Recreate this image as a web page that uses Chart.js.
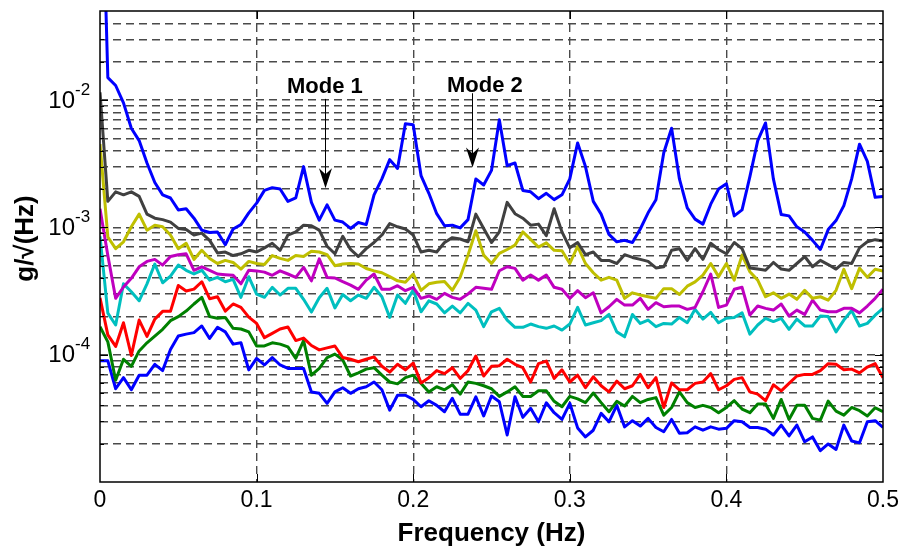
<!DOCTYPE html>
<html lang="en">
<head>
<meta charset="UTF-8">
<title>Acceleration spectra</title>
<script src="https://cdn.jsdelivr.net/npm/chart.js"></script>
<style>
  body { margin: 0; background: #fff; }
  canvas { display: block; }
</style>
</head>
<body>
<canvas id="psdChart" width="904" height="549"></canvas>
<script>
// frequency bins (Hz)
const freq = [
  0, 0.005, 0.01, 0.015, 0.02, 0.025, 0.03, 0.035, 0.04, 0.045,
  0.05, 0.055, 0.06, 0.065, 0.07, 0.075, 0.08, 0.085, 0.09, 0.095,
  0.1, 0.105, 0.11, 0.115, 0.12, 0.125, 0.13, 0.135, 0.14, 0.145,
  0.15, 0.155, 0.16, 0.165, 0.17, 0.175, 0.18, 0.185, 0.19, 0.195,
  0.2, 0.205, 0.21, 0.215, 0.22, 0.225, 0.23, 0.235, 0.24, 0.245,
  0.25, 0.255, 0.26, 0.265, 0.27, 0.275, 0.28, 0.285, 0.29, 0.295,
  0.3, 0.305, 0.31, 0.315, 0.32, 0.325, 0.33, 0.335, 0.34, 0.345,
  0.35, 0.355, 0.36, 0.365, 0.37, 0.375, 0.38, 0.385, 0.39, 0.395,
  0.4, 0.405, 0.41, 0.415, 0.42, 0.425, 0.43, 0.435, 0.44, 0.445,
  0.45, 0.455, 0.46, 0.465, 0.47, 0.475, 0.48, 0.485, 0.49, 0.495,
  0.5
];

// spectra, g/sqrt(Hz)
const blueTop = [
  2.5, 1.5e-2, 1.3e-2, 9.5e-3, 6.0e-3, 4.8e-3, 3.2e-3, 2.25e-3, 1.8e-3, 1.7e-3,
  1.37e-3, 1.4e-3, 1.18e-3, 9.5e-4, 9.1e-4, 9.2e-4, 7.3e-4, 9.7e-4, 1.05e-3, 1.3e-3,
  1.55e-3, 1.95e-3, 2.05e-3, 2.0e-3, 1.6e-3, 1.7e-3, 3.0e-3, 1.57e-3, 1.14e-3, 1.5e-3,
  1.14e-3, 1.1e-3, 9.8e-4, 1.09e-3, 1.05e-3, 1.8e-3, 2.4e-3, 3.4e-3, 2.9e-3, 6.5e-3,
  6.4e-3, 2.55e-3, 1.85e-3, 1.28e-3, 1.03e-3, 1.04e-3, 9.9e-4, 1.15e-3, 2.4e-3, 2.15e-3,
  2.8e-3, 7.0e-3, 3.05e-3, 3.2e-3, 1.95e-3, 1.9e-3, 1.68e-3, 1.85e-3, 1.65e-3, 1.8e-3,
  2.4e-3, 4.6e-3, 3.0e-3, 1.6e-3, 1.27e-3, 8.8e-4, 7.7e-4, 7.9e-4, 7.6e-4, 9.7e-4,
  1.3e-3, 1.65e-3, 3.85e-3, 6.0e-3, 2.4e-3, 1.42e-3, 1.16e-3, 1.06e-3, 1.52e-3, 2.0e-3,
  2.2e-3, 1.23e-3, 1.37e-3, 2.5e-3, 4.8e-3, 6.6e-3, 2.4e-3, 1.26e-3, 1.23e-3, 1.01e-3,
  9.2e-4, 7.9e-4, 6.7e-4, 9.6e-4, 1.13e-3, 1.48e-3, 2.4e-3, 4.5e-3, 3.3e-3, 1.72e-3,
  1.75e-3
];
const gray = [
  1.15e-2, 1.6e-3, 1.9e-3, 1.8e-3, 1.9e-3, 1.75e-3, 1.27e-3, 1.18e-3, 1.15e-3, 1.1e-3,
  9.8e-4, 9.6e-4, 8.7e-4, 9.0e-4, 7.9e-4, 6.3e-4, 6.4e-4, 6.0e-4, 6.2e-4, 6.6e-4,
  6.4e-4, 6.9e-4, 7.5e-4, 6.6e-4, 8.7e-4, 9.2e-4, 1.04e-3, 1.03e-3, 9.5e-4, 7.1e-4,
  6.2e-4, 8.5e-4, 6.7e-4, 5.9e-4, 6.8e-4, 7.6e-4, 8.7e-4, 1.07e-3, 1.01e-3, 9.7e-4,
  8.7e-4, 6.4e-4, 6.6e-4, 6.4e-4, 7.6e-4, 8.3e-4, 8.1e-4, 7.7e-4, 1.27e-3, 9.8e-4,
  7.6e-4, 9.2e-4, 1.57e-3, 1.28e-3, 1.18e-3, 1.04e-3, 1.06e-3, 8.6e-4, 1.4e-3, 9.2e-4,
  6.9e-4, 7.6e-4, 6.1e-4, 6.4e-4, 5.5e-4, 5.5e-4, 5.2e-4, 6.1e-4, 5.8e-4, 5.6e-4,
  5.4e-4, 4.8e-4, 4.9e-4, 6.6e-4, 6.8e-4, 5.5e-4, 6.8e-4, 5.6e-4, 7.5e-4, 6.7e-4,
  6.2e-4, 7.6e-4, 6.8e-4, 4.8e-4, 4.7e-4, 4.6e-4, 5.3e-4, 4.7e-4, 4.6e-4, 5.2e-4,
  5.9e-4, 4.9e-4, 5.5e-4, 5.1e-4, 4.7e-4, 5.3e-4, 5.2e-4, 6.9e-4, 7.7e-4, 8.0e-4,
  7.8e-4
];
const yellow = [
  4.5e-3, 8.4e-4, 6.8e-4, 7.7e-4, 1.01e-3, 1.27e-3, 9.5e-4, 1.04e-3, 1.01e-3, 8.7e-4,
  6.8e-4, 7.5e-4, 5.6e-4, 6.6e-4, 5.7e-4, 5.2e-4, 5.5e-4, 5.3e-4, 4.7e-4, 5.4e-4,
  5.2e-4, 5.1e-4, 6.0e-4, 5.7e-4, 5.5e-4, 6.0e-4, 5.9e-4, 6.5e-4, 6.4e-4, 6.1e-4,
  5.0e-4, 5.15e-4, 5.2e-4, 5.15e-4, 4.75e-4, 4.55e-4, 4.4e-4, 4.1e-4, 3.8e-4, 3.7e-4,
  4.3e-4, 3.2e-4, 3.6e-4, 3.7e-4, 3.75e-4, 3.2e-4, 4.05e-4, 6.05e-4, 9.4e-4, 6.05e-4,
  5.2e-4, 6.25e-4, 6.7e-4, 7.25e-4, 9.2e-4, 8.05e-4, 7.0e-4, 7.55e-4, 6.6e-4, 6.55e-4,
  5.2e-4, 7.1e-4, 5.2e-4, 4.4e-4, 3.85e-4, 4.05e-4, 3.85e-4, 2.77e-4, 3.06e-4, 2.94e-4,
  2.85e-4, 2.77e-4, 3.3e-4, 3.3e-4, 2.97e-4, 3.45e-4, 3.73e-4, 4.22e-4, 5.2e-4, 4.1e-4,
  5.2e-4, 3.85e-4, 6.05e-4, 4.48e-4, 3.85e-4, 2.85e-4, 3.06e-4, 2.77e-4, 2.99e-4, 2.72e-4,
  3.2e-4, 2.77e-4, 2.85e-4, 2.68e-4, 3.2e-4, 4.68e-4, 3.3e-4, 4.77e-4, 4.05e-4, 4.68e-4,
  4.54e-4
];
const magenta = [
  1.4e-3, 6.0e-4, 2.77e-4, 3.4e-4, 3.98e-4, 4.9e-4, 5.4e-4, 5.6e-4, 5.05e-4, 5.9e-4,
  6.1e-4, 6.2e-4, 4.6e-4, 4.9e-4, 4.6e-4, 4.3e-4, 4.25e-4, 4.2e-4, 3.6e-4, 4.6e-4,
  4.55e-4, 4.45e-4, 4.2e-4, 4.55e-4, 4.3e-4, 4.05e-4, 4.85e-4, 3.8e-4, 5.65e-4, 4.04e-4,
  4.0e-4, 3.74e-4, 3.52e-4, 3.26e-4, 3.85e-4, 4.3e-4, 3.26e-4, 3.26e-4, 3.48e-4, 3.18e-4,
  3.38e-4, 2.77e-4, 2.89e-4, 2.72e-4, 3.03e-4, 2.82e-4, 2.72e-4, 3.0e-4, 3.38e-4, 3.32e-4,
  3.26e-4, 4.56e-4, 4.9e-4, 4.76e-4, 3.85e-4, 4.22e-4, 3.85e-4, 4.22e-4, 3.38e-4, 3.26e-4,
  2.77e-4, 3.18e-4, 2.8e-4, 3.06e-4, 2.13e-4, 2.38e-4, 2.72e-4, 2.45e-4, 2.45e-4, 2.77e-4,
  2.27e-4, 2.56e-4, 2.38e-4, 2.41e-4, 2.41e-4, 2.27e-4, 2.35e-4, 3.12e-4, 4.3e-4, 2.35e-4,
  2.45e-4, 3.26e-4, 3.38e-4, 2.05e-4, 2.41e-4, 2.31e-4, 2.24e-4, 2.5e-4, 2.01e-4, 2.24e-4,
  2.07e-4, 2.68e-4, 2.24e-4, 2.17e-4, 2.17e-4, 2.31e-4, 2.31e-4, 2.13e-4, 2.41e-4, 2.77e-4,
  3.26e-4
];
const cyan = [
  8.5e-4, 2.12e-4, 1.71e-4, 3.6e-4, 3.12e-4, 2.65e-4, 3.6e-4, 5.15e-4, 3.67e-4, 4.14e-4,
  5.05e-4, 4.6e-4, 4.3e-4, 4.6e-4, 3.85e-4, 4.05e-4, 3.74e-4, 3.9e-4, 2.82e-4, 4.09e-4,
  2.99e-4, 2.82e-4, 3.38e-4, 2.94e-4, 3.32e-4, 3.32e-4, 2.72e-4, 2.16e-4, 2.8e-4, 3.32e-4,
  2.33e-4, 2.97e-4, 2.65e-4, 2.94e-4, 2.77e-4, 3.38e-4, 2.85e-4, 1.96e-4, 2.94e-4, 2.53e-4,
  3.22e-4, 2.17e-4, 2.65e-4, 2.5e-4, 2.13e-4, 2.41e-4, 2.13e-4, 2.53e-4, 2.24e-4, 1.66e-4,
  2.17e-4, 2.31e-4, 1.87e-4, 1.64e-4, 1.64e-4, 1.74e-4, 1.66e-4, 1.61e-4, 1.68e-4, 1.56e-4,
  1.74e-4, 2.35e-4, 1.71e-4, 1.78e-4, 1.85e-4, 2.07e-4, 1.51e-4, 1.38e-4, 2.07e-4, 1.76e-4,
  1.87e-4, 1.66e-4, 1.76e-4, 1.74e-4, 1.96e-4, 1.78e-4, 2.27e-4, 1.9e-4, 2.15e-4, 1.78e-4,
  1.93e-4, 1.96e-4, 2.13e-4, 1.45e-4, 1.71e-4, 1.93e-4, 1.82e-4, 1.93e-4, 1.58e-4, 1.9e-4,
  1.68e-4, 1.68e-4, 2.01e-4, 1.99e-4, 1.51e-4, 1.87e-4, 2.22e-4, 1.68e-4, 1.76e-4, 2.04e-4,
  2.31e-4
];
const red = [
  2.79e-4, 1.43e-4, 1.16e-4, 1.78e-4, 9.85e-5, 1.87e-4, 1.39e-4, 1.9e-4, 2.19e-4, 2.19e-4,
  3.49e-4, 3.16e-4, 3.27e-4, 3.74e-4, 2.75e-4, 2.85e-4, 2.2e-4, 2.5e-4, 2.35e-4, 1.97e-4,
  1.76e-4, 1.36e-4, 1.47e-4, 1.59e-4, 1.65e-4, 1.29e-4, 1.35e-4, 1.18e-4, 1.09e-4, 1.13e-4,
  1.17e-4, 9.5e-5, 9.2e-5, 8.8e-5, 9.2e-5, 9.6e-5, 8.1e-5, 7.3e-5, 8.4e-5, 7.6e-5,
  8.6e-5, 6.0e-5, 6.6e-5, 7.5e-5, 7.1e-5, 7.9e-5, 6.5e-5, 7.5e-5, 9.75e-5, 6.8e-5,
  8.1e-5, 8.2e-5, 9.2e-5, 8.4e-5, 7.9e-5, 6.1e-5, 8.5e-5, 8.9e-5, 6.5e-5, 7.6e-5,
  6.1e-5, 6.9e-5, 5.5e-5, 6.7e-5, 5.7e-5, 5.1e-5, 6.2e-5, 5.4e-5, 5.7e-5, 7.0e-5,
  5.5e-5, 6.6e-5, 3.85e-5, 6.0e-5, 5.3e-5, 5.3e-5, 5.95e-5, 6.1e-5, 7.1e-5, 5.3e-5,
  5.7e-5, 6.4e-5, 6.6e-5, 5.1e-5, 4.9e-5, 4.35e-5, 5.8e-5, 5.2e-5, 5.95e-5, 6.8e-5,
  7.0e-5, 7.0e-5, 7.5e-5, 8.5e-5, 8.4e-5, 7.6e-5, 7.7e-5, 7.2e-5, 8.0e-5, 8.5e-5,
  6.6e-5
];
const green = [
  1.66e-4, 1.26e-4, 6.3e-5, 9.2e-5, 8.1e-5, 1.07e-4, 1.24e-4, 1.4e-4, 1.58e-4, 1.85e-4,
  1.99e-4, 2.2e-4, 2.5e-4, 2.82e-4, 1.99e-4, 1.93e-4, 1.96e-4, 1.61e-4, 1.59e-4, 1.51e-4,
  1.17e-4, 1.17e-4, 1.24e-4, 1.21e-4, 1.15e-4, 9.35e-5, 1.29e-4, 6.9e-5, 7.8e-5, 9.5e-5,
  1.01e-4, 9.1e-5, 6.8e-5, 7.2e-5, 7.7e-5, 7.9e-5, 6.9e-5, 6.1e-5, 5.9e-5, 6.6e-5,
  6.9e-5, 5.95e-5, 5.1e-5, 5.6e-5, 5.3e-5, 5.8e-5, 4.9e-5, 6.1e-5, 5.95e-5, 5.7e-5,
  5.4e-5, 4.7e-5, 5.1e-5, 5.6e-5, 4.7e-5, 4.7e-5, 5.2e-5, 5.2e-5, 4.3e-5, 3.9e-5,
  4.7e-5, 4.5e-5, 4.2e-5, 5.0e-5, 4.2e-5, 3.56e-5, 4.3e-5, 3.95e-5, 4.7e-5, 4.2e-5,
  4.45e-5, 4.6e-5, 3.35e-5, 3.85e-5, 5.1e-5, 4.2e-5, 3.85e-5, 4.0e-5, 3.85e-5, 3.5e-5,
  3.85e-5, 4.35e-5, 3.74e-5, 3.5e-5, 4.1e-5, 4.1e-5, 3.16e-5, 4.45e-5, 3.1e-5, 4.0e-5,
  4.0e-5, 3.16e-5, 3.06e-5, 4.32e-5, 3.6e-5, 3.35e-5, 3.85e-5, 3.63e-5, 3.3e-5, 3.83e-5,
  3.56e-5
];
const blueBottom = [
  8.95e-5, 8.95e-5, 5.4e-5, 6.6e-5, 5.3e-5, 6.9e-5, 6.9e-5, 8.4e-5, 7.5e-5, 1.1e-4,
  1.4e-4, 1.45e-4, 1.49e-4, 1.68e-4, 1.34e-4, 1.64e-4, 1.51e-4, 1.21e-4, 1.24e-4, 7.6e-5,
  9.35e-5, 8.3e-5, 9.5e-5, 8.3e-5, 7.8e-5, 7.8e-5, 7.8e-5, 5.1e-5, 4.97e-5, 4.15e-5,
  5.1e-5, 5.5e-5, 4.97e-5, 5.4e-5, 5.6e-5, 6.1e-5, 5.3e-5, 3.67e-5, 4.8e-5, 4.8e-5,
  4.45e-5, 3.9e-5, 4.35e-5, 4.0e-5, 3.56e-5, 4.54e-5, 3.41e-5, 3.41e-5, 4.67e-5, 3.3e-5,
  4.73e-5, 4.27e-5, 2.34e-5, 4.67e-5, 3.22e-5, 3.79e-5, 2.97e-5, 4.19e-5, 3.5e-5, 3.1e-5,
  4.15e-5, 2.66e-5, 2.26e-5, 2.55e-5, 3.46e-5, 2.97e-5, 4.0e-5, 2.71e-5, 3.03e-5, 2.75e-5,
  3.16e-5, 2.68e-5, 2.48e-5, 3.1e-5, 2.41e-5, 2.44e-5, 2.71e-5, 2.55e-5, 2.71e-5, 2.6e-5,
  2.64e-5, 3.03e-5, 2.97e-5, 2.68e-5, 2.68e-5, 2.6e-5, 2.34e-5, 2.8e-5, 2.3e-5, 2.8e-5,
  2.07e-5, 2.26e-5, 1.76e-5, 1.99e-5, 1.8e-5, 2.8e-5, 2.1e-5, 2.03e-5, 2.97e-5, 3.03e-5,
  2.68e-5
];

// y axis: labelled decades and grid mantissas
const yDecades = [1e-4, 1e-3, 1e-2];
const yMantissas = [1, 2, 3, 4, 5, 6, 7, 8, 9];

// mode markers (text anchor + arrow from/to, in data units)
const modeNotes = [
  { text: 'Mode 1', tf: 0.1194, tv: 1.14e-2, af: 0.1437, from: 1.02e-2, to: 2.03e-3 },
  { text: 'Mode 2', tf: 0.2216, tv: 1.16e-2, af: 0.2375, from: 1.13e-2, to: 2.95e-3 }
];

const FONT = "'Liberation Sans', Arial, Helvetica, sans-serif";
Chart.defaults.font.family = FONT;
Chart.defaults.color = '#000';

const gridVals = [];
[1e-5, 1e-4, 1e-3, 1e-2].forEach(d => {
  yMantissas.forEach(m => {
    const v = m * d;
    if (v > 1e-5 * 1.01 && v < 0.05 * 0.99) gridVals.push(v);
  });
});

const series = [
  { data: blueTop, color: '#0000ff' },
  { data: gray, color: '#404040' },
  { data: yellow, color: '#bfbf00' },
  { data: magenta, color: '#bf00bf' },
  { data: cyan, color: '#00bfbf' },
  { data: red, color: '#ff0000' },
  { data: green, color: '#008000' },
  { data: blueBottom, color: '#0000ff' }
];

const frame = {
  id: 'frame',
  afterDatasetsDraw(chart) {
    const { ctx, chartArea: a, scales: { x, y } } = chart;
    ctx.save();
    ctx.strokeStyle = '#000';
    ctx.lineWidth = 1;
    // inner tick marks
    ctx.beginPath();
    gridVals.forEach(v => {
      const py = Math.round(y.getPixelForValue(v)) + 0.5;
      const major = yDecades.some(d => Math.abs(d - v) < d * 1e-6);
      const len = major ? 8 : 4;
      ctx.moveTo(a.left, py); ctx.lineTo(a.left + len, py);
      ctx.moveTo(a.right, py); ctx.lineTo(a.right - len, py);
    });
    [0.1, 0.2, 0.3, 0.4].forEach(f => {
      const px = Math.round(x.getPixelForValue(f)) + 0.5;
      ctx.moveTo(px, a.bottom); ctx.lineTo(px, a.bottom - 8);
      ctx.moveTo(px, a.top); ctx.lineTo(px, a.top + 8);
    });
    ctx.stroke();
    // axes box
    ctx.lineWidth = 1.5;
    ctx.strokeRect(a.left, a.top, a.right - a.left, a.bottom - a.top);

    // y tick labels 10^n
    ctx.fillStyle = '#000';
    yDecades.forEach(d => {
      const py = y.getPixelForValue(d);
      const exp = Math.round(Math.log10(d));
      ctx.font = '24px ' + FONT;
      ctx.textAlign = 'right';
      ctx.textBaseline = 'middle';
      ctx.fillText('10', 75, py + 1);
      ctx.font = '17px ' + FONT;
      ctx.textAlign = 'left';
      ctx.fillText(String(exp), 75, py - 10);
    });

    // y axis title
    ctx.save();
    ctx.translate(26, (a.top + a.bottom) / 2 - 8);
    ctx.rotate(-Math.PI / 2);
    ctx.font = 'bold 26px ' + FONT;
    ctx.textAlign = 'center';
    ctx.textBaseline = 'middle';
    ctx.fillText('g/√(Hz)', 0, 0);
    ctx.restore();

    // mode annotations
    modeNotes.forEach(n => {
      ctx.font = 'bold 22px ' + FONT;
      ctx.textAlign = 'left';
      ctx.textBaseline = 'alphabetic';
      ctx.fillText(n.text, x.getPixelForValue(n.tf), y.getPixelForValue(n.tv));
      const ax = Math.round(x.getPixelForValue(n.af)) + 0.5;
      const y0 = y.getPixelForValue(n.from);
      const tip = y.getPixelForValue(n.to);
      ctx.lineWidth = 1;
      ctx.beginPath();
      ctx.moveTo(ax, y0);
      ctx.lineTo(ax, tip - 12);
      ctx.stroke();
      ctx.beginPath();
      ctx.moveTo(ax, tip);
      ctx.lineTo(ax - 6.5, tip - 20);
      ctx.lineTo(ax, tip - 14);
      ctx.lineTo(ax + 6.5, tip - 20);
      ctx.closePath();
      ctx.fill();
    });
    ctx.restore();
  }
};

new Chart(document.getElementById('psdChart'), {
  type: 'line',
  data: {
    labels: freq,
    datasets: series.map(s => ({
      data: s.data,
      borderColor: s.color,
      backgroundColor: s.color,
      borderWidth: 3,
      pointRadius: 0,
      fill: false,
      tension: 0,
      borderJoinStyle: 'round'
    }))
  },
  options: {
    responsive: false,
    animation: false,
    devicePixelRatio: 1,
    layout: { padding: { left: 0, top: 11, right: 21, bottom: 0 } },
    plugins: { legend: { display: false }, tooltip: { enabled: false } },
    scales: {
      x: {
        type: 'linear',
        min: 0,
        max: 0.5,
        bounds: 'data',
        ticks: { stepSize: 0.1, padding: 5, maxRotation: 0, font: { size: 23 }, color: '#000' },
        afterFit: s => { s.height = 67; s.paddingLeft = 0; s.paddingRight = 0; },
        grid: {
          drawTicks: false,
          lineWidth: 1.4,
          color: c => (c.tick && (Math.abs(c.tick.value) < 1e-9 || Math.abs(c.tick.value - 0.5) < 1e-9)) ? 'rgba(0,0,0,0)' : '#4a4a4a'
        },
        border: { display: false, dash: [8, 5] },
        title: { display: true, text: 'Frequency (Hz)', color: '#000', font: { size: 26, weight: 'bold' }, padding: { top: 0, bottom: 0 } }
      },
      y: {
        type: 'logarithmic',
        min: 1e-5,
        max: 0.05,
        bounds: 'data',
        afterBuildTicks: s => { s.ticks = gridVals.map(v => ({ value: v })); },
        afterFit: s => { s.width = 100; s.paddingTop = 0; s.paddingBottom = 0; },
        ticks: { display: false },
        grid: { drawTicks: false, lineWidth: 1.4, color: '#4a4a4a' },
        border: { display: false, dash: [8, 5] },
        title: { display: false }
      }
    }
  },
  plugins: [frame]
});
</script>
</body>
</html>
